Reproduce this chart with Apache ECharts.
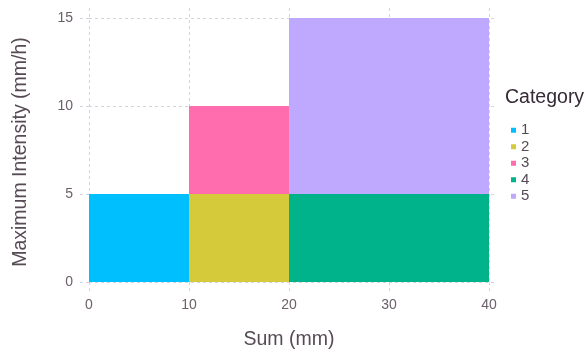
<!DOCTYPE html>
<html>
<head>
<meta charset="utf-8">
<script src="https://cdn.jsdelivr.net/npm/echarts@6/dist/echarts.min.js"></script>
<style>
html,body{margin:0;padding:0;background:#fff;}
#chart{width:588px;height:352px;}
</style>
</head>
<body>
<div id="chart"></div>
<script>
const categories = ['1', '2', '3', '4', '5'];
const xStart = [0, 10, 10, 20, 20];
const xEnd = [10, 20, 20, 40, 40];
const yStart = [0, 0, 5, 0, 5];
const yEnd = [5, 5, 10, 5, 15];
const colors = ['#00BFFF', '#D4CA3A', '#FF6DAE', '#00B38A', '#BEA9FF'];
const xTicks = [0, 10, 20, 30, 40];
const yTicks = [0, 5, 10, 15];

const FONT = '"Liberation Sans", "DejaVu Sans", sans-serif';
const gridColor = '#D3D3E0';

const chart = echarts.init(document.getElementById('chart'), null, {renderer: 'canvas'});

const series = categories.map((c, i) => ({
  name: c,
  type: 'custom',
  itemStyle: {color: colors[i]},
  encode: {x: [0, 1], y: [2, 3]},
  data: [[xStart[i], xEnd[i], yStart[i], yEnd[i]]],
  renderItem: function (params, api) {
    const p0 = api.coord([api.value(0), api.value(3)]);
    const p1 = api.coord([api.value(1), api.value(2)]);
    return {
      type: 'rect',
      shape: {x: p0[0], y: p0[1], width: p1[0] - p0[0], height: p1[1] - p0[1]},
      style: {fill: api.visual('color')}
    };
  }
}));

chart.setOption({
  animation: false,
  color: colors,
  grid: {left: 89, right: 91, top: 8, bottom: 70, containLabel: false},
  xAxis: {
    type: 'value',
    min: 0,
    max: 40.8,
    interval: 10,
    axisLine: {show: false},
    axisTick: {show: true, length: 9, customValues: xTicks, lineStyle: {color: gridColor, type: [3, 3]}},
    axisLabel: {customValues: xTicks, margin: 16, color: '#6C606B', fontSize: 14, fontFamily: FONT},
    splitLine: {show: true, lineStyle: {color: gridColor, type: [3, 3]}}
  },
  yAxis: {
    type: 'value',
    min: 0,
    max: 15.57,
    interval: 5,
    axisLine: {show: false},
    axisTick: {show: true, length: 10, customValues: yTicks, lineStyle: {color: gridColor, type: [3, 3]}},
    axisLabel: {customValues: yTicks, margin: 16, color: '#6C606B', fontSize: 14, fontFamily: FONT},
    splitLine: {show: true, lineStyle: {color: gridColor, type: [3, 3]}}
  },
  legend: {
    orient: 'vertical',
    left: 506,
    top: 117,
    icon: 'rect',
    itemWidth: 5,
    itemHeight: 5,
    itemGap: 0,
    textStyle: {fontSize: 15, lineHeight: 16.5, color: '#564A55', fontFamily: FONT},
    data: categories
  },
  graphic: [
    {type: 'text', x: 289, y: 340, style: {text: 'Sum (mm)', fontSize: 19.5, fontFamily: FONT, fill: '#564A55', align: 'center', verticalAlign: 'middle'}},
    {type: 'text', x: 21, y: 152, rotation: Math.PI / 2, style: {text: 'Maximum Intensity (mm/h)', fontSize: 19.5, fontFamily: FONT, fill: '#564A55', align: 'center', verticalAlign: 'middle'}},
    {type: 'text', x: 505, y: 98, style: {text: 'Category', fontSize: 19.5, fontFamily: FONT, fill: '#362A35', align: 'left', verticalAlign: 'middle'}}
  ],
  series: series
});
</script>
</body>
</html>
